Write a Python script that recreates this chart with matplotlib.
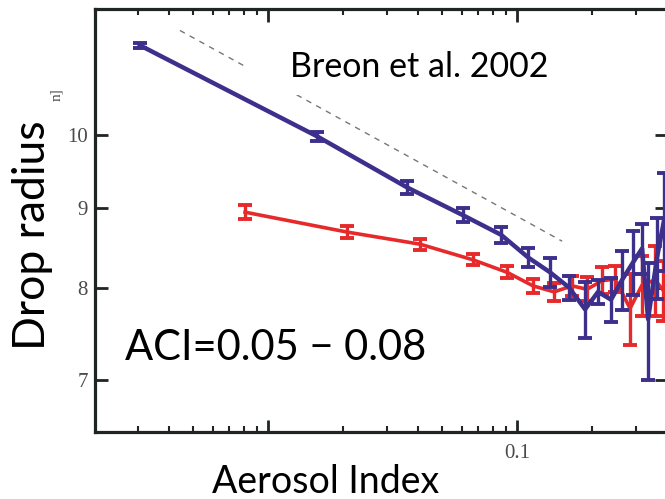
import numpy as np
import matplotlib
matplotlib.use('Agg')
import matplotlib.pyplot as plt
from matplotlib.ticker import FixedLocator, NullLocator, LogLocator, FixedFormatter, NullFormatter
from matplotlib.patches import Rectangle

# Breon et al. 2002, drop radius vs aerosol index
blue_x = [0.00306, 0.01574, 0.0361, 0.0607, 0.0863, 0.1107, 0.1357, 0.1618, 0.1875,
          0.2115, 0.2385, 0.2641, 0.2923, 0.3177, 0.3358, 0.3649, 0.3894]
blue_y = [11.40, 9.985, 9.27, 8.90, 8.65, 8.37, 8.19, 8.01, 7.76,
          7.96, 7.87, 8.10, 8.31, 8.48, 7.65, 8.37, 8.84]
blue_err = [0.04, 0.07, 0.09, 0.09, 0.10, 0.12, 0.17, 0.14, 0.32,
            0.14, 0.25, 0.35, 0.39, 0.31, 0.65, 0.49, 0.63]

red_x = [0.00809, 0.02076, 0.04077, 0.0666, 0.0912, 0.1159, 0.1408, 0.1663,
         0.1910, 0.2194, 0.2475, 0.2843, 0.3177, 0.3583, 0.3857]
red_y = [8.94, 8.685, 8.533, 8.34, 8.19, 8.03, 7.96, 8.03,
         7.99, 8.09, 8.11, 7.77, 8.04, 8.10, 7.98]
red_err = [0.09, 0.076, 0.068, 0.067, 0.07, 0.082, 0.10, 0.12,
           0.14, 0.16, 0.15, 0.40, 0.35, 0.41, 0.35]

# reference slope line (dashed)
ref_x = [0.00443, 0.1517]
ref_y = [11.65, 8.57]

yticks = [7, 8, 9, 10]
xtick_major = [0.01, 0.1]
xtick_labels = ['', '0.1']

BLUE = '#3d2f8c'
RED = '#e62a2c'
AXC = '#1f2522'

fig = plt.figure(figsize=(6.65, 4.99), dpi=100)
ax = fig.add_axes([95/665, 67/499, 572/665, 423/499])

ax.set_xscale('log')
ax.set_yscale('log')

ax.plot(ref_x, ref_y, color='#777777', lw=1.0, dashes=(4, 4), zorder=1)

ax.errorbar(red_x, red_y, yerr=red_err, color=RED, lw=2.6, elinewidth=2.4,
            capsize=5, capthick=2.8, zorder=2)
ax.errorbar(blue_x, blue_y, yerr=blue_err, color=BLUE, lw=3.2, elinewidth=2.4,
            capsize=5, capthick=2.8, zorder=3)

ax.set_xlim(0.00202, 0.40)
ax.set_ylim(6.49, 12.02)

ax.yaxis.set_major_locator(FixedLocator(yticks))
ax.yaxis.set_minor_locator(NullLocator())
ax.yaxis.set_major_formatter(FixedFormatter([str(t) for t in yticks]))
ax.yaxis.set_minor_formatter(NullFormatter())

ax.xaxis.set_major_locator(FixedLocator(xtick_major))
ax.xaxis.set_major_formatter(FixedFormatter(xtick_labels))
ax.xaxis.set_minor_locator(LogLocator(base=10, subs=np.arange(2, 10), numticks=20))
ax.xaxis.set_minor_formatter(NullFormatter())

ax.tick_params(which='both', direction='in', top=True, right=True, color=AXC)
ax.tick_params(which='major', length=9, width=2.0)
ax.tick_params(which='minor', length=4.5, width=1.5)
ax.tick_params(axis='y', which='major', pad=5, labelsize=15, labelcolor='#4a4a4a')
ax.tick_params(axis='x', which='major', pad=9, labelsize=15, labelcolor='#4a4a4a')
for lab in ax.get_xticklabels() + ax.get_yticklabels():
    lab.set_family('Liberation Serif')

for s in ax.spines.values():
    s.set_linewidth(2.3)
    s.set_color(AXC)

# white box behind the citation, hiding part of the dashed line
fig.patches.append(Rectangle((245/665, 1 - 95/499), 330/665, 58/499,
                             transform=fig.transFigure, facecolor='white',
                             edgecolor='none', zorder=5))

sans = 'Lato'
fig.text(290/665, 1 - 77/499, 'Breon et al. 2002', fontsize=24.5, family=sans,
         ha='left', va='baseline', zorder=6)
fig.text(125/665, 1 - 360/499, 'ACI=0.05 \u2212 0.08', fontsize=30, family=sans,
         ha='left', va='baseline')
fig.text(212/665, 6/499, 'Aerosol Index', fontsize=27, family=sans,
         ha='left', va='baseline')
fig.text(33/665, 1 - 235/499, 'Drop radius', fontsize=32, family=sans,
         rotation=90, ha='center', va='center')
fig.text(57/665, 1 - 95/499, 'n]', fontsize=11, family='Liberation Serif',
         color='#4a4a4a', rotation=90, ha='center', va='center')

fig.savefig('out.png', dpi=100)
